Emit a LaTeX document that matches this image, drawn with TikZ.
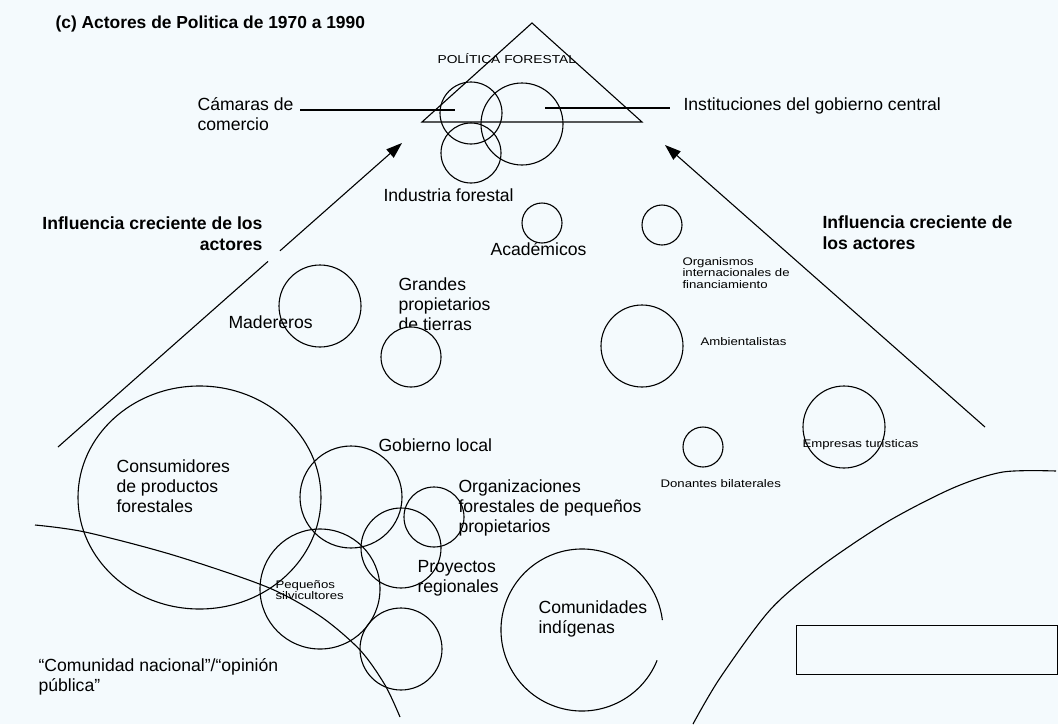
\documentclass[tikz,border=0pt]{standalone}
\usepackage{fontspec}
\setmainfont{Liberation Sans}
\newfontfamily\widefont[FakeStretch=1.2]{Liberation Sans}
\usetikzlibrary{arrows.meta,shapes.geometric}
\definecolor{bg}{RGB}{244,250,253}
\newcommand\mlL[1]{\begin{tabular}[t]{@{}l@{}}#1\end{tabular}}
\newcommand\mlR[1]{\begin{tabular}[t]{@{}r@{}}#1\end{tabular}}
\begin{document}
\begin{tikzpicture}[x=1pt,y=-1pt,line width=1.1pt,
  txt/.style={inner sep=0,anchor=base west,font=\fontsize{17.6}{20.3}\selectfont},
  txtb/.style={inner sep=0,anchor=base west,font=\fontsize{17.6}{21}\selectfont\bfseries},
  tiny/.style={inner sep=0,anchor=base west,font=\widefont\fontsize{11}{11.8}\selectfont},
  ring/.style={circle,draw,inner sep=0,minimum size=#1},
  arr/.style={-{Triangle[length=16pt,width=11pt]}}]
\fill[bg] (0,0) rectangle (1058,724);
\useasboundingbox (0,0) rectangle (1058,724);

% title
\node[txtb,font=\fontsize{17.4}{20}\selectfont\bfseries] (title) at (55,28) {(c) Actores de Politica de 1970 a 1990};

% triangle
\coordinate (tA) at (532,23);
\coordinate (tL) at (422,122);
\coordinate (tR) at (642,122);
\draw (tA) -- (tL) -- (tR) -- cycle;
\node[tiny,font=\widefont\fontsize{11.5}{12}\selectfont] (pol) at (437,63) {POLÍTICA FORESTAL};

% top circles
\node[ring=62] (camc) at (471,113) {};
\node[ring=82] (instc) at (522,124) {};
\node[ring=60] (indc) at (471,153) {};

\node[txt] (cam) at (197,110) {\mlL{Cámaras de\\comercio}};
\coordinate (cam1) at (300,110);
\coordinate (cam2) at (455,110);
\draw (cam1) -- (cam2);
\node[txt] (inst) at (683,110) {Instituciones del gobierno central};
\coordinate (inst1) at (545,108);
\coordinate (inst2) at (670,108);
\draw (inst1) -- (inst2);
\node[txt] (ind) at (383,201) {Industria forestal};

% arrows
\coordinate (la) at (58,447);
\coordinate (lg1) at (268,261.4);
\coordinate (lg2) at (280,250.8);
\coordinate (lb) at (402,143);
\draw (la) -- (lg1);
\draw[arr] (lg2) -- (lb);
\coordinate (ra) at (985,427);
\coordinate (rb) at (665,145);
\draw[arr] (ra) -- (rb);
\node[txtb,anchor=base east] (infl) at (263,229) {\mlR{Influencia creciente de los\\actores}};
\node[txtb] (infr) at (822,228) {\mlL{Influencia creciente de\\los actores}};

% middle actors
\node[ring=40] (acac) at (542,223) {};
\node[txt] (aca) at (490,255) {Académicos};
\node[ring=40] (orgic) at (662,225) {};
\node[tiny] (orgi) at (682,265) {\mlL{Organismos\\internacionales de\\financiamiento}};
\node[ring=82] (madc) at (320,306) {};
\node[txt] (mad) at (228,328) {Madereros};
\node[txt] (gra) at (398,290) {\mlL{Grandes\\propietarios\\de tierras}};
\node[ring=60,fill=bg] (grac) at (411,357) {};
\node[ring=82] (ambc) at (642,346) {};
\node[tiny] (amb) at (700,345) {Ambientalistas};
\node[ring=82] (empc) at (844,427) {};
\node[tiny] (emp) at (802,447) {Empresas turísticas};
\node[ring=40] (donc) at (703,447) {};
\node[tiny] (don) at (660,487) {Donantes bilaterales};

% bottom cluster
\node[ellipse,draw,inner sep=0,minimum width=243,minimum height=223] (conc) at (199.5,497.5) {};
\node[txt] (con) at (116,472) {\mlL{Consumidores\\de productos\\forestales}};
\node[ring=102] (gobc) at (351,497) {};
\node[txt] (gob) at (378,451) {Gobierno local};
\node[txt] (orgp) at (458,492) {\mlL{Organizaciones\\forestales de pequeños\\propietarios}};
\node[ring=60] (orgpc) at (434,517) {};
\node[txt] (pro) at (417,572) {\mlL{Proyectos\\regionales}};
\node[ring=80] (proc) at (401,548) {};
\node[ring=120] (pequc) at (320,589) {};
\node[tiny] (pequ) at (275,588) {\mlL{Pequeños\\silvicultores}};
\node[ring=82] (botc) at (401,649) {};

% comunidades
\coordinate (comc) at (582,630);
\draw ([shift={(22:81)}]comc) arc[start angle=22,end angle=353,radius=81];
\node[txt] (com) at (538,613) {\mlL{Comunidades\\indígenas}};

% curves
\draw plot[smooth] coordinates {(35,525) (85,532) (173,555) (267,587) (320,616) (360,650) (385,685) (400,717)};
\draw plot[smooth] coordinates {(693,724) (720,678) (770,610) (820,567) (887,522) (953,488) (1003,472) (1056,471)};

\node[txt] (nac) at (38,671) {\mlL{“Comunidad nacional”/“opinión\\pública”}};

% empty box
\node[draw,inner sep=0,minimum width=261,minimum height=49,anchor=north west] (box) at (796,625) {};
\end{tikzpicture}
\end{document}
